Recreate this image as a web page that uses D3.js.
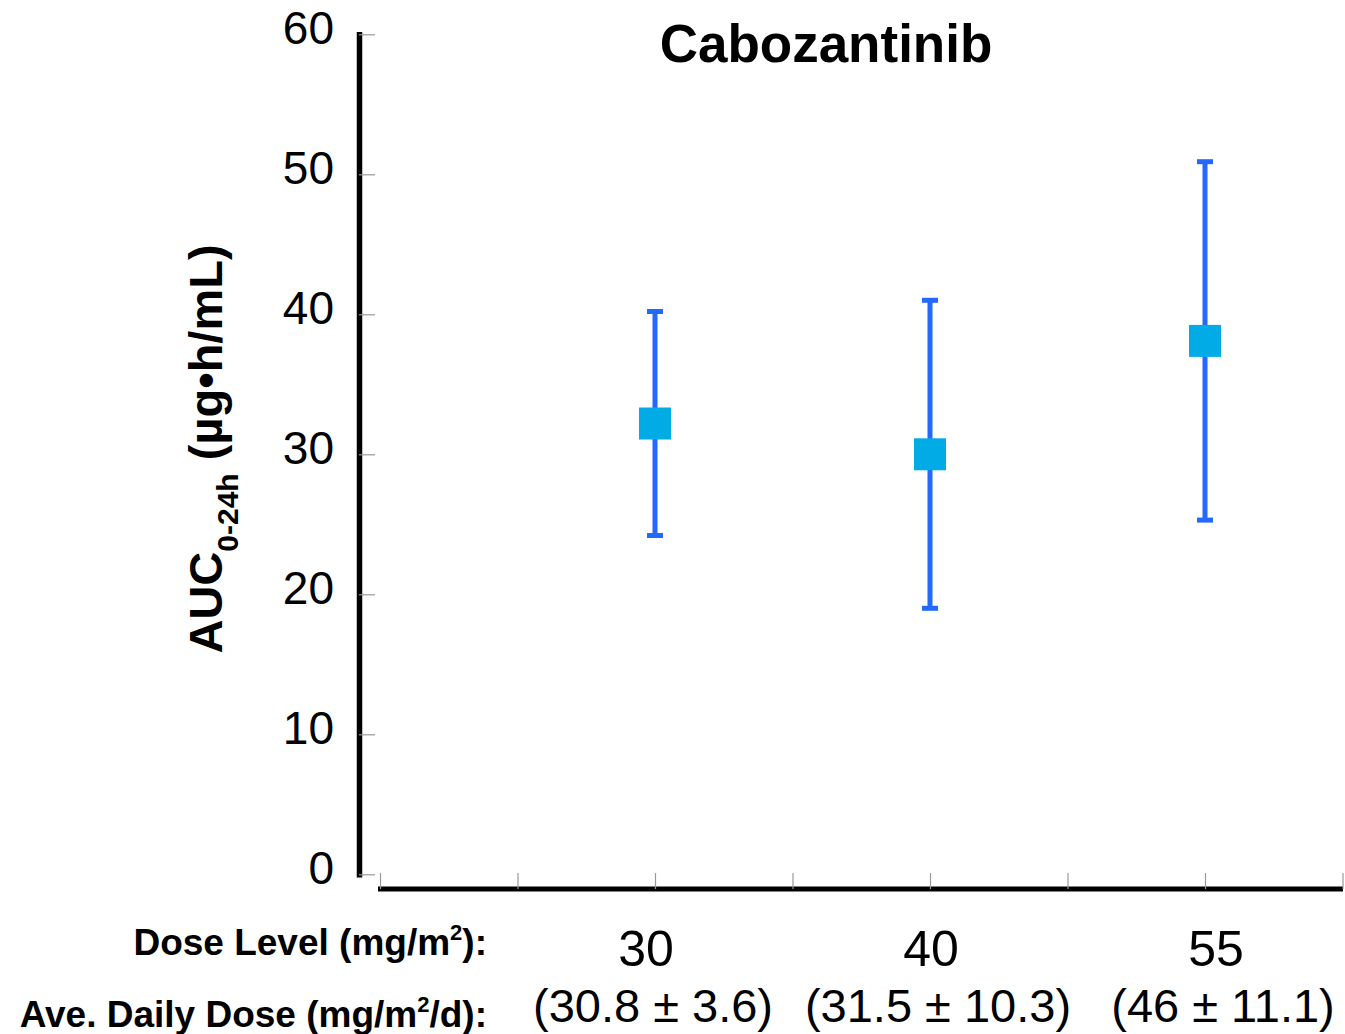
<!DOCTYPE html>
<html>
<head>
<meta charset="utf-8">
<script src="https://cdn.jsdelivr.net/npm/d3@7"></script>
<style>
  body { margin: 0; background: #fff; }
  text { font-family: "Liberation Sans", Arial, sans-serif; }
</style>
</head>
<body>
<script>
// values
var doseLevels = ["30", "40", "55"];
var aveDaily = ["(30.8 \u00b1 3.6)", "(31.5 \u00b1 10.3)", "(46 \u00b1 11.1)"];
var aucMean = [32.2, 30.0, 38.1];
var aucLow = [24.2, 19.0, 25.3];
var aucHigh = [40.2, 41.0, 50.9];
var yTicks = [0, 10, 20, 30, 40, 50, 60];
var xTicks = [0, 0.5, 1, 1.5, 2, 2.5, 3, 3.5];

function draw() {
    var w = 1345;
    var h = 1034;
    var svg = d3.select("body")
        .append("svg")
        .attr("width", w)
        .attr("height", h);

    var y = d3.scaleLinear().domain([0, 60]).range([874.3, 34.3]);
    var x = d3.scaleLinear().domain([0, 3.5]).range([380, 1342.5]);
    // labels under the axis sit a bit wider apart than the points
    var labelX = d3.scaleLinear().domain([1, 3]).range([646, 1216]);

    // title
    svg.append("text")
        .attr("x", 826).attr("y", 62)
        .attr("text-anchor", "middle")
        .style("font-size", "53px").style("font-weight", "bold")
        .text("Cabozantinib");

    // y axis, ticks point right, labels on the left
    var yAxis = svg.append("g")
        .attr("transform", "translate(359,0)")
        .call(d3.axisRight(y).tickValues(yTicks).tickSize(16).tickSizeOuter(0));
    yAxis.select(".domain").attr("stroke", "#000").attr("stroke-width", 5.5)
        .attr("stroke-linecap", "square");
    yAxis.selectAll(".tick line").attr("stroke", "#999").attr("stroke-width", 1.2);
    yAxis.selectAll(".tick text")
        .attr("x", -25).attr("dy", "0.2em")
        .attr("text-anchor", "end")
        .attr("fill", "#000")
        .style("font-size", "46px");

    // x axis, ticks point up
    var xAxis = svg.append("g")
        .attr("transform", "translate(0,889)")
        .call(d3.axisTop(x).tickValues(xTicks).tickSize(16).tickSizeOuter(0).tickFormat(""));
    xAxis.select(".domain").attr("stroke", "#000").attr("stroke-width", 5)
        .attr("d", "M378,0H1343");
    xAxis.selectAll(".tick line").attr("stroke", "#999").attr("stroke-width", 1.2);

    // y axis title
    var yt = svg.append("text")
        .attr("transform", "translate(222,449) rotate(-90)")
        .attr("text-anchor", "middle")
        .style("font-weight", "bold")
        .style("font-size", "47px");
    yt.append("tspan").text("AUC");
    yt.append("tspan").attr("dy", 16).style("font-size", "30px").text("0-24h");
    yt.append("tspan").attr("dy", -16).text(" (\u00b5g\u2022h/mL)");

    // error bars
    var pts = doseLevels.map(function(d, i) {
        return { i: i + 1, mean: aucMean[i], lo: aucLow[i], hi: aucHigh[i] };
    });
    var bars = svg.append("g").attr("stroke", "#2368ff").attr("stroke-width", 5);
    bars.selectAll(".stem").data(pts).enter().append("line")
        .attr("x1", function(d) { return x(d.i); })
        .attr("x2", function(d) { return x(d.i); })
        .attr("y1", function(d) { return y(d.lo); })
        .attr("y2", function(d) { return y(d.hi); });
    ["lo", "hi"].forEach(function(k) {
        bars.selectAll(".cap-" + k).data(pts).enter().append("line")
            .attr("x1", function(d) { return x(d.i) - 8; })
            .attr("x2", function(d) { return x(d.i) + 8; })
            .attr("y1", function(d) { return y(d[k]); })
            .attr("y2", function(d) { return y(d[k]); });
    });

    // square markers
    svg.selectAll(".pt").data(pts).enter().append("rect")
        .attr("x", function(d) { return x(d.i) - 16; })
        .attr("y", function(d) { return y(d.mean) - 16; })
        .attr("width", 32).attr("height", 32)
        .attr("fill", "#00abe6");

    // category labels below the axis
    svg.selectAll(".dose").data(doseLevels).enter().append("text")
        .attr("x", function(d, i) { return labelX(i + 1); })
        .attr("y", 966)
        .attr("text-anchor", "middle")
        .style("font-size", "50px")
        .text(function(d) { return d; });
    svg.selectAll(".ave").data(aveDaily).enter().append("text")
        .attr("x", function(d, i) { return labelX(i + 1) + 7; })
        .attr("y", 1022)
        .attr("text-anchor", "middle")
        .style("font-size", "47px")
        .text(function(d) { return d; });

    // row captions
    var c1 = svg.append("text").attr("x", 487).attr("y", 955)
        .attr("text-anchor", "end")
        .style("font-weight", "bold").style("font-size", "37px");
    c1.append("tspan").text("Dose Level (mg/m");
    c1.append("tspan").attr("dy", -15).style("font-size", "22px").text("2");
    c1.append("tspan").attr("dy", 15).text("):");

    var c2 = svg.append("text").attr("x", 487).attr("y", 1027)
        .attr("text-anchor", "end")
        .style("font-weight", "bold").style("font-size", "37px");
    c2.append("tspan").text("Ave. Daily Dose (mg/m");
    c2.append("tspan").attr("dy", -15).style("font-size", "22px").text("2");
    c2.append("tspan").attr("dy", 15).text("/d):");
}
window.onload = draw;
</script>
</body>
</html>
